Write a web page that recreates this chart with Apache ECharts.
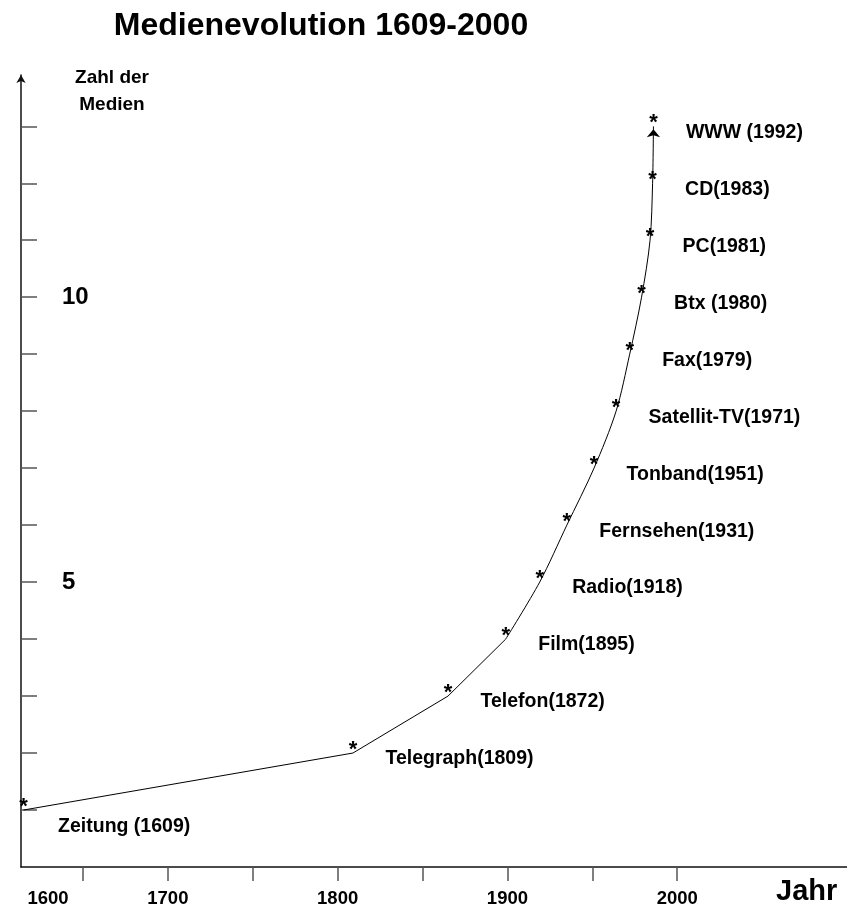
<!DOCTYPE html>
<html>
<head>
<meta charset="utf-8">
<script src="https://cdn.jsdelivr.net/npm/echarts@6/dist/echarts.min.js"></script>
<style>
  html, body { margin: 0; padding: 0; background: #fff; }
  #chart { width: 847px; height: 912px; }
</style>
</head>
<body>
<div id="chart"></div>
<script>
// ---- data ----
const mediaLabels = ['Zeitung (1609)', 'Telegraph(1809)', 'Telefon(1872)', 'Film(1895)', 'Radio(1918)',
  'Fernsehen(1931)', 'Tonband(1951)', 'Satellit-TV(1971)', 'Fax(1979)', 'Btx (1980)', 'PC(1981)', 'CD(1983)', 'WWW (1992)'];
// year positions where the points are drawn on the x axis
const plottedYears = [1615, 1809, 1865, 1899, 1919, 1935, 1951, 1964, 1972, 1979, 1984, 1985.5, 1986];
// number of media
const mediaCount = [1, 2, 3, 4, 5, 6, 7, 8, 9, 10, 11, 12, 13];
// axis ticks and labels
const xTickYears = [1650, 1700, 1750, 1800, 1850, 1900, 1950, 2000];
const xLabelYears = [1700, 1800, 1900, 2000];
const xFirstLabel = '1600';
const yTickValues = [1, 2, 3, 4, 5, 6, 7, 8, 9, 10, 11, 12, 13];
const yLabelValues = [5, 10];

const FONT = '"Liberation Sans", Arial, Helvetica, sans-serif';
const X_MIN = 1613.5, X_MAX = 2100;

const points = plottedYears.map((y, i) => [y, mediaCount[i]]);
const straightPart = points.slice(0, 4);
const curvedPart = points.slice(3);

const nameData = points.map((p, i) => {
  const item = { value: p };
  if (i === 0) item.label = { offset: [29, 17] };
  return item;
});

const chart = echarts.init(document.getElementById('chart'));
chart.setOption({
  animation: false,
  backgroundColor: '#fff',
  title: [
    { text: 'Medienevolution 1609-2000', left: 316, top: 5, textAlign: 'center',
      textStyle: { fontFamily: FONT, fontSize: 32, fontWeight: 'bold', color: '#000' } },
    { text: 'Zahl der\nMedien', left: 107, top: 59, textAlign: 'center',
      textStyle: { fontFamily: FONT, fontSize: 19, fontWeight: 'bold', color: '#000', lineHeight: 27 } },
    { text: 'Jahr', left: 771, top: 872,
      textStyle: { fontFamily: FONT, fontSize: 29, fontWeight: 'bold', color: '#000' } }
  ],
  grid: { left: 21, right: -1, top: 75, bottom: 45, containLabel: false },
  xAxis: {
    type: 'value', min: X_MIN, max: X_MAX,
    splitLine: { show: false },
    axisLine: { lineStyle: { color: '#111', width: 1.5 } },
    axisTick: { customValues: xTickYears, length: 14, lineStyle: { color: '#555', width: 1.5 } },
    axisLabel: {
      customValues: [X_MIN].concat(xLabelYears),
      margin: 22,
      fontFamily: FONT, fontSize: 18.5, fontWeight: 'bold', color: '#000',
      formatter: v => (v === X_MIN ? '{first|' + xFirstLabel + '}' : String(v)),
      rich: { first: { fontFamily: FONT, fontSize: 18.5, fontWeight: 'bold', color: '#000', padding: [0, 0, 0, 54] } }
    }
  },
  yAxis: {
    type: 'value', min: 0, max: 13.9,
    splitLine: { show: false },
    axisLine: { show: true, symbol: ['none', 'arrow'], symbolSize: [7, 8], lineStyle: { color: '#111', width: 1.5 } },
    axisTick: { show: true, inside: true, customValues: yTickValues, length: 16, lineStyle: { color: '#555', width: 1.5 } },
    axisLabel: { inside: true, customValues: yLabelValues, margin: 41,
      fontFamily: FONT, fontSize: 24, fontWeight: 'bold', color: '#000' }
  },
  series: [
    { type: 'line', data: straightPart, showSymbol: false, symbol: 'none',
      lineStyle: { color: '#000', width: 1 }, silent: true },
    { type: 'line', data: curvedPart, showSymbol: false, symbol: 'none', smooth: 0.3,
      lineStyle: { color: '#000', width: 1 }, silent: true },
    // asterisk markers
    { type: 'scatter', data: points, symbolSize: 1, itemStyle: { color: 'rgba(0,0,0,0)', opacity: 1 },
      label: { show: true, position: 'inside', formatter: '*', offset: [0, -3],
        fontFamily: FONT, fontSize: 22, fontWeight: 'bold', color: '#000' } },
    // media names
    { type: 'scatter', data: nameData, symbolSize: 1, itemStyle: { color: 'rgba(0,0,0,0)', opacity: 1 },
      label: { show: true, position: 'right', distance: 5, offset: [27, 6],
        formatter: p => mediaLabels[p.dataIndex],
        fontFamily: FONT, fontSize: 19.5, fontWeight: 'bold', color: '#000' } },
    // arrow head at the end of the curve
    { type: 'scatter', data: [points[points.length - 1]], symbol: 'arrow', symbolSize: [10, 8],
      symbolOffset: [0, 3], itemStyle: { color: '#000', opacity: 1 }, silent: true }
  ]
});
</script>
</body>
</html>
